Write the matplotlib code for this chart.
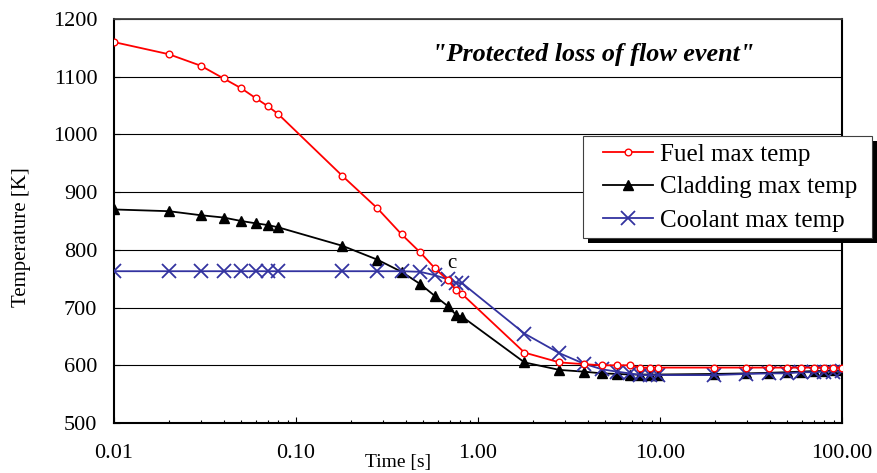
import matplotlib
matplotlib.use('Agg')
import matplotlib.pyplot as plt
from matplotlib.patches import Rectangle
from matplotlib.font_manager import FontProperties
from matplotlib.ticker import FixedLocator, FuncFormatter, LogLocator, NullFormatter

# ---------------- data ----------------
time_s = [0.01, 0.02, 0.03, 0.04, 0.05, 0.06, 0.07, 0.08,
          0.18, 0.28, 0.38, 0.48, 0.58, 0.68, 0.76, 0.82,
          1.8, 2.8, 3.8, 4.8, 5.8, 6.8, 7.8, 8.8, 9.8,
          19.8, 29.8, 39.8, 49.8, 59.8, 69.8, 79.8, 89.8, 99.8]

fuel_max = [1160, 1139, 1119, 1097, 1080, 1063, 1049, 1035,
            928, 872, 827, 796, 768, 748, 730, 723,
            622, 605, 602, 600, 600, 600, 596, 596, 596,
            596, 596, 596, 596, 596, 596, 596, 596, 596]

cladding_max = [870, 867, 860, 856, 850, 846, 843, 839,
                807, 783, 762, 741, 720, 703, 687, 684,
                605, 592, 589, 586, 585, 584, 584, 584, 584,
                585, 586, 587, 588, 589, 590, 590, 591, 591]

coolant_max = [763, 763, 763, 763, 763, 763, 763, 763,
               763, 763, 763, 762, 756, 749, 743, 742,
               655, 621, 603, 593, 589, 586, 583, 583, 583,
               583, 585, 586, 586, 588, 588, 589, 589, 590]

series_labels = ["Fuel max temp", "Cladding max temp", "Coolant max temp"]
x_ticks = [0.01, 0.1, 1, 10, 100]
y_ticks = [500, 600, 700, 800, 900, 1000, 1100, 1200]
title_text = '"Protected loss of flow event"'
x_label = "Time [s]"
y_label = "Temperature [K]"
note_text = "c"
note_xy = (0.72, 777)

# ---------------- style ----------------
SERIF = "Liberation Serif"
RED = "#ff0000"
BLACK = "#000000"
BLUE = "#3333a0"

W, H = 878, 473
fig = plt.figure(figsize=(W / 100, H / 100), dpi=100)
ax = fig.add_axes([114 / W, 1 - 423 / H, 728 / W, 404 / H])

ax.set_xscale("log")
ax.set_xlim(0.01, 100)
ax.set_ylim(500, 1200)

ax.yaxis.grid(True, color="black", lw=0.8)
ax.set_axisbelow(True)

l1, = ax.plot(time_s, fuel_max, color=RED, lw=1.3, marker="o", ms=4.8,
              mfc="white", mec=RED, mew=1.0, zorder=5)
l2, = ax.plot(time_s, cladding_max, color=BLACK, lw=1.3, marker="^", ms=7.5,
              mfc=BLACK, mec=BLACK, zorder=4)
l3, = ax.plot(time_s, coolant_max, color=BLUE, lw=1.3, marker="x", ms=9.5,
              mew=1.3, zorder=4.5)

ax.xaxis.set_major_locator(FixedLocator(x_ticks))
ax.xaxis.set_major_formatter(FuncFormatter(lambda v, p: f"{v:.2f}"))
ax.xaxis.set_minor_locator(LogLocator(base=10, subs=range(2, 10), numticks=20))
ax.xaxis.set_minor_formatter(NullFormatter())
ax.yaxis.set_major_locator(FixedLocator(y_ticks))

ax.tick_params(axis="x", which="major", direction="in", length=4, width=0.8,
               pad=15, labelsize=16)
ax.tick_params(axis="x", which="minor", direction="in", length=2.5, width=0.8)
ax.tick_params(axis="y", which="major", direction="in", length=4, width=0.8,
               pad=12, labelsize=16)
for lab in ax.get_xticklabels() + ax.get_yticklabels():
    lab.set_family(SERIF)

for side in ["left", "bottom", "right"]:
    ax.spines[side].set_linewidth(1.5)
    ax.spines[side].set_color("black")
ax.spines["top"].set_linewidth(1.3)
ax.spines["top"].set_color("#404040")

ax.text(0.658, 0.913, title_text, transform=ax.transAxes, ha="center",
        va="center", fontsize=18.8, fontweight="bold", fontstyle="italic",
        family=SERIF)
ax.text(note_xy[0], note_xy[1], note_text, ha="center", va="center",
        fontsize=15, family=SERIF, zorder=6)

fig.text(398 / W, 1 - 462 / H, x_label, ha="center", va="center",
         fontsize=14, family=SERIF)
fig.text(22 / W, 1 - 237 / H, y_label, ha="center", va="center",
         rotation=90, fontsize=15, family=SERIF)

# legend with Excel-like box and black shadow
fig.add_artist(Rectangle((588 / W, 1 - 243 / H), 289 / W, 102 / H,
                         transform=fig.transFigure, facecolor="black",
                         edgecolor="none", zorder=3))
fig.add_artist(Rectangle((583 / W, 1 - 238 / H), 289 / W, 102 / H,
                         transform=fig.transFigure, facecolor="white",
                         edgecolor="#404040", lw=0.8, zorder=3.5))
fig.legend([l1, l2, l3], series_labels, loc="upper left",
           bbox_to_anchor=(603 / W, 1 - 143 / H),
           bbox_transform=fig.transFigure, frameon=False, borderpad=0,
           borderaxespad=0, handlelength=2.0, handletextpad=0.3,
           labelspacing=0.42, prop=FontProperties(family=SERIF, size=18))

fig.savefig("out.png", dpi=100)
